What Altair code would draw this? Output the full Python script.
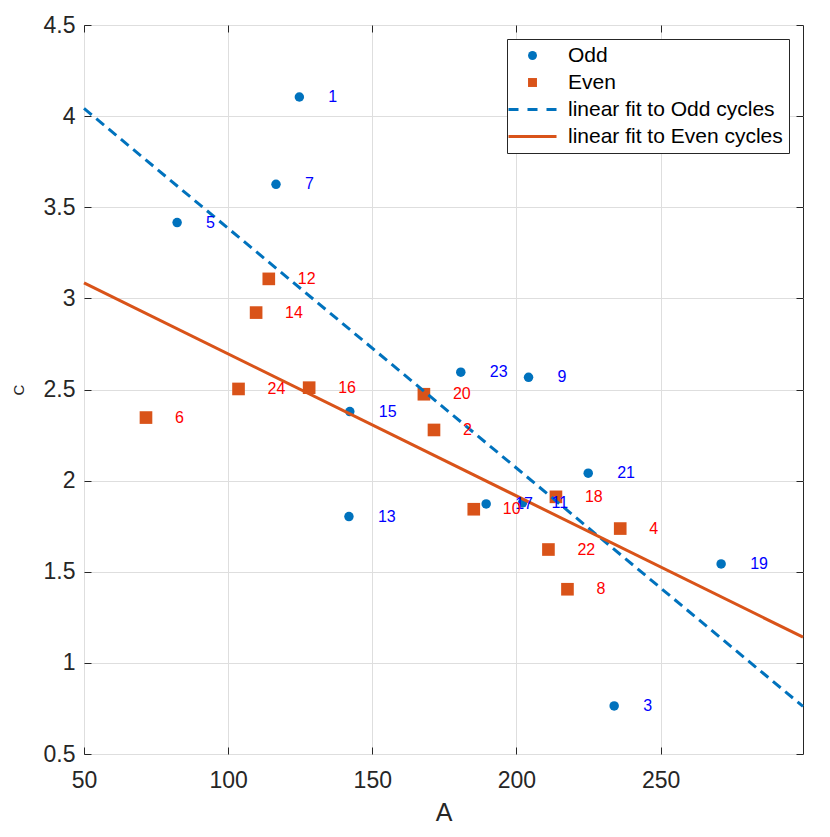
import altair as alt
import pandas as pd

# ---- data ----
odd_cycles = [1, 3, 5, 7, 9, 11, 13, 15, 17, 19, 21, 23]
odd_A = [124.7, 233.9, 82.3, 116.6, 204.2, 202.1, 141.9, 142.2, 189.5, 271.0, 224.9, 180.7]
odd_C = [4.105, 0.764, 3.416, 3.626, 2.567, 1.878, 1.803, 2.379, 1.872, 1.543, 2.041, 2.595]

even_cycles = [2, 4, 6, 8, 10, 12, 14, 16, 18, 20, 22, 24]
even_A = [171.4, 236.0, 71.5, 217.7, 185.2, 114.1, 109.7, 128.1, 213.7, 167.9, 211.1, 103.6]
even_C = [2.278, 1.737, 2.346, 1.404, 1.843, 3.107, 2.922, 2.510, 1.911, 2.474, 1.622, 2.503]

series_names = ["Odd", "Even", "linear fit to Odd cycles", "linear fit to Even cycles"]
x_ticks = [50, 100, 150, 200, 250]
y_ticks = [0.5, 1, 1.5, 2, 2.5, 3, 3.5, 4, 4.5]
x_domain = [50, 299.4]
y_domain = [0.5, 4.5]

BLUE = "#0072BD"
RED = "#D95319"
FONT = "Liberation Sans"
INK = "#262626"

dash_path = ("M-5.37,-0.34H-3.13V0.34H-5.37Z "
             "M-1.12,-0.34H1.12V0.34H-1.12Z "
             "M3.13,-0.34H5.37V0.34H3.13Z")
solid_path = "M-5.37,-0.34H5.37V0.34H-5.37Z"

df = pd.DataFrame({
    "A": odd_A + even_A,
    "C": odd_C + even_C,
    "series": ["Odd"] * len(odd_A) + ["Even"] * len(even_A),
    "label": [str(c) for c in odd_cycles] + [str(c) for c in even_cycles],
})

xs = alt.Scale(domain=x_domain, nice=False, zero=False)
ys = alt.Scale(domain=y_domain, nice=False, zero=False)

common_axis = dict(
    domain=False, tickSize=7, offset=-7, tickColor=INK, tickWidth=1,
    labelFont=FONT, labelColor=INK, titleFont=FONT, titleColor=INK,
    titleFontWeight="normal", labelFlush=False, labelOverlap=False,
    gridColor="#dedede", gridWidth=1,
)

x_bottom = alt.Axis(orient="bottom", values=x_ticks, grid=True, labelFontSize=23,
                    labelPadding=15, title="A", titleFontSize=25, titlePadding=8,
                    **common_axis)
y_left = alt.Axis(orient="left", values=y_ticks, grid=True, labelFontSize=23,
                  labelPadding=9, format="~g", title="C", titleFontSize=15,
                  titlePadding=17, **common_axis)
x_top = alt.Axis(orient="top", values=x_ticks, grid=False, labels=False, title=None,
                 **common_axis)
y_right = alt.Axis(orient="right", values=y_ticks, grid=False, labels=False, title=None,
                   **common_axis)

legend = alt.Legend(
    orient="none", legendX=423, legendY=14, title=None,
    labelFont=FONT, labelFontSize=21, labelColor="#000000", labelLimit=400,
    symbolSize=80, symbolStrokeWidth=0, symbolOffset=9, labelOffset=25,
    strokeColor=INK, fillColor="white", padding=6, rowPadding=5,
)

points = alt.Chart(df).mark_point(filled=True, opacity=1, strokeWidth=0).encode(
    x=alt.X("A:Q", scale=xs, axis=x_bottom),
    y=alt.Y("C:Q", scale=ys, axis=y_left),
    color=alt.Color("series:N", scale=alt.Scale(domain=series_names,
                                                range=[BLUE, RED, BLUE, RED]),
                    legend=legend),
    shape=alt.Shape("series:N", scale=alt.Scale(domain=series_names,
                                                range=["circle", "square", dash_path, solid_path]),
                    legend=legend),
    size=alt.Size("series:N", scale=alt.Scale(domain=["Odd", "Even"], range=[90, 160]),
                  legend=None),
)

fit_odd = alt.Chart(df).transform_filter(alt.datum.series == "Odd").transform_regression(
    "A", "C", extent=x_domain
).mark_line(color=BLUE, strokeWidth=3, strokeDash=[10, 6]).encode(
    x=alt.X("A:Q", scale=xs, axis=x_top),
    y=alt.Y("C:Q", scale=ys, axis=y_right),
)

fit_even = alt.Chart(df).transform_filter(alt.datum.series == "Even").transform_regression(
    "A", "C", extent=x_domain
).mark_line(color=RED, strokeWidth=3).encode(
    x=alt.X("A:Q", scale=xs, axis=None),
    y=alt.Y("C:Q", scale=ys, axis=None),
)

def labels(name, col):
    return alt.Chart(df).transform_filter(alt.datum.series == name).mark_text(
        align="left", baseline="middle", dx=29, fontSize=16, font=FONT, color=col
    ).encode(
        x=alt.X("A:Q", scale=xs, axis=None),
        y=alt.Y("C:Q", scale=ys, axis=None),
        text="label:N",
    )

chart = alt.layer(
    points, fit_odd, fit_even, labels("Odd", "#0000FF"), labels("Even", "#FF0000")
).resolve_axis(x="independent", y="independent").properties(
    width=719, height=729,
    autosize=alt.AutoSizeParams(type="none"),
    padding={"left": 76, "top": 17, "right": 10, "bottom": 70},
    background="white",
).configure_view(stroke=INK, strokeWidth=1)

chart.save("out.html", embed_options={"renderer": "svg", "actions": False})
